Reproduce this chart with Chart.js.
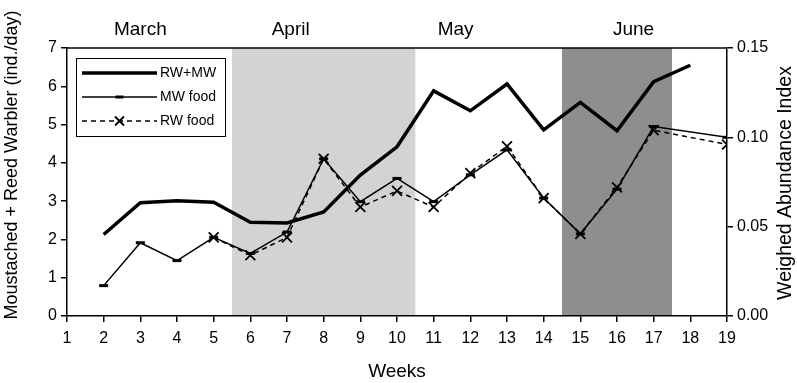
<!DOCTYPE html>
<html>
<head>
<meta charset="utf-8">
<script src="https://cdn.jsdelivr.net/npm/chart.js@4"></script>
<style>
  html, body { margin: 0; padding: 0; background: #fff; }
  #wrap { width: 797px; height: 383px; }
</style>
</head>
<body>
<div id="wrap"><canvas id="chart" width="797" height="383"></canvas></div>
<script>
// Weeks on the x axis
const weeks = [2, 3, 4, 5, 6, 7, 8, 9, 10, 11, 12, 13, 14, 15, 16, 17, 18, 19];

// Moustached + Reed Warbler catches (ind./day), left axis
const rwMw = [2.13, 2.96, 3.01, 2.97, 2.45, 2.43, 2.72, 3.68, 4.42, 5.88, 5.36, 6.06, 4.86, 5.58, 4.84, 6.12, 6.55, null];

// Weighed abundance index of food, right axis
const mwFood = [0.017, 0.041, 0.031, 0.044, 0.035, 0.047, 0.088, 0.064, 0.077, 0.064, 0.079, 0.093, 0.066, 0.046, 0.071, 0.106, null, 0.100];
const rwFood = [null, null, null, 0.044, 0.034, 0.044, 0.088, 0.061, 0.070, 0.061, 0.080, 0.095, 0.066, 0.046, 0.072, 0.104, null, 0.096];

// Month labels above the plot and shaded periods (in weeks)
const monthNames = ['March', 'April', 'May', 'June'];
const monthWeeks = [3.0, 7.1, 11.6, 16.45];
const bandStarts = [5.5, 14.5];
const bandEnds = [10.5, 17.5];
const bandColors = ['#d3d3d3', '#8e8e8e'];

// Axis titles
const leftTitle = 'Moustached + Reed Warbler (ind./day)';
const rightTitle = 'Weighed Abundance Index';

const FONT = "'Liberation Sans', Arial, sans-serif";

function pts(arr) {
    return weeks.map((w, i) => ({ x: w, y: arr[i] }));
}

// Shaded month bands behind everything
const bandsPlugin = {
    id: 'bands',
    beforeDraw(chart) {
        const { ctx, chartArea, scales } = chart;
        ctx.save();
        bandStarts.forEach((s, i) => {
            const x1 = scales.x.getPixelForValue(s);
            const x2 = scales.x.getPixelForValue(bandEnds[i]);
            ctx.fillStyle = bandColors[i];
            ctx.fillRect(x1, chartArea.top, x2 - x1, chartArea.bottom - chartArea.top);
        });
        ctx.restore();
    }
};

// Top border, month names, vertical titles and the boxed legend
const overlayPlugin = {
    id: 'overlay',
    afterDraw(chart) {
        const { ctx, chartArea, scales } = chart;
        ctx.save();

        // top frame line
        ctx.strokeStyle = '#000';
        ctx.lineWidth = 1.5;
        ctx.beginPath();
        ctx.moveTo(chartArea.left, chartArea.top);
        ctx.lineTo(chartArea.right, chartArea.top);
        ctx.stroke();

        // month names
        ctx.fillStyle = '#000';
        ctx.font = '19px ' + FONT;
        ctx.textAlign = 'center';
        ctx.textBaseline = 'middle';
        monthNames.forEach((m, i) => {
            ctx.fillText(m, scales.x.getPixelForValue(monthWeeks[i]), chartArea.top - 18);
        });

        // both vertical titles read bottom to top
        ctx.font = '18px ' + FONT;
        ctx.save();
        ctx.translate(scales.y.left + 12, chartArea.top + 117);
        ctx.rotate(-Math.PI / 2);
        ctx.fillText(leftTitle, 0, 0);
        ctx.restore();
        ctx.font = '19.5px ' + FONT;
        ctx.save();
        ctx.translate(scales.y2.right - 11, chartArea.top + 135);
        ctx.rotate(-Math.PI / 2);
        ctx.fillText(rightTitle, 0, 0);
        ctx.restore();

        // legend box
        const bx = chartArea.left + 9, by = chartArea.top + 10, bw = 149, bh = 78;
        ctx.fillStyle = '#fff';
        ctx.fillRect(bx, by, bw, bh);
        ctx.strokeStyle = '#000';
        ctx.lineWidth = 1;
        ctx.strokeRect(bx + 0.5, by + 0.5, bw, bh);

        const x1 = bx + 6, x2 = bx + 81, mx = (x1 + x2) / 2;
        const rows = [by + 15, by + 39, by + 63];
        chart.data.datasets.forEach((ds, i) => {
            const y = rows[i];
            ctx.strokeStyle = '#000';
            ctx.lineWidth = ds.borderWidth;
            ctx.setLineDash(ds.borderDash || []);
            ctx.beginPath();
            ctx.moveTo(x1, y);
            ctx.lineTo(x2, y);
            ctx.stroke();
            ctx.setLineDash([]);
            if (ds.pointStyle === 'line') {
                ctx.lineWidth = 3;
                ctx.beginPath();
                ctx.moveTo(mx - 4, y);
                ctx.lineTo(mx + 4, y);
                ctx.stroke();
            } else if (ds.pointStyle === 'crossRot') {
                ctx.lineWidth = 1.8;
                ctx.beginPath();
                ctx.moveTo(mx - 4.5, y - 4.5);
                ctx.lineTo(mx + 4.5, y + 4.5);
                ctx.moveTo(mx - 4.5, y + 4.5);
                ctx.lineTo(mx + 4.5, y - 4.5);
                ctx.stroke();
            }
            ctx.fillStyle = '#000';
            ctx.font = '14px ' + FONT;
            ctx.textAlign = 'left';
            ctx.textBaseline = 'middle';
            ctx.fillText(ds.label, x2 + 3, y);
        });
        ctx.restore();
    }
};

const axisCommon = {
    border: { color: '#000', width: 1.5 },
    grid: { drawOnChartArea: false, color: '#000', tickLength: 6, lineWidth: 1.5 },
    ticks: { color: '#000', font: { family: FONT, size: 16 } }
};

new Chart(document.getElementById('chart'), {
    type: 'line',
    data: {
        datasets: [{
            label: 'RW+MW',
            data: pts(rwMw),
            yAxisID: 'y',
            borderColor: '#000',
            borderWidth: 3.5,
            pointRadius: 0,
            pointStyle: false,
            tension: 0
        }, {
            label: 'MW food',
            data: pts(mwFood),
            yAxisID: 'y2',
            borderColor: '#000',
            borderWidth: 1.5,
            pointStyle: 'line',
            pointRadius: 4.5,
            pointBorderWidth: 3,
            pointBorderColor: '#000',
            spanGaps: true,
            tension: 0
        }, {
            label: 'RW food',
            data: pts(rwFood),
            yAxisID: 'y2',
            borderColor: '#000',
            borderWidth: 1.5,
            borderDash: [5, 4],
            pointStyle: 'crossRot',
            pointRadius: 7,
            pointBorderWidth: 1.8,
            pointBorderColor: '#000',
            spanGaps: true,
            tension: 0
        }]
    },
    options: {
        responsive: false,
        animation: false,
        devicePixelRatio: 1,
        layout: { padding: { top: 48, left: 0, right: 0, bottom: 0 } },
        plugins: {
            legend: { display: false },
            tooltip: { enabled: false }
        },
        scales: {
            x: {
                type: 'linear',
                min: 1,
                max: 19,
                ...axisCommon,
                ticks: { ...axisCommon.ticks, stepSize: 1, padding: 7 },
                title: { display: true, text: 'Weeks', color: '#000', font: { family: FONT, size: 19 }, padding: 0 },
                afterFit(scale) { scale.height = 67; }
            },
            y: {
                position: 'left',
                min: 0,
                max: 7,
                ...axisCommon,
                ticks: { ...axisCommon.ticks, stepSize: 1, padding: 4 },
                afterFit(scale) { scale.width = 67; }
            },
            y2: {
                position: 'right',
                min: 0,
                max: 0.15,
                ...axisCommon,
                ticks: { ...axisCommon.ticks, stepSize: 0.05, padding: 4, callback: v => v.toFixed(2) },
                afterFit(scale) { scale.width = 70; }
            }
        }
    },
    plugins: [bandsPlugin, overlayPlugin]
});
</script>
</body>
</html>
